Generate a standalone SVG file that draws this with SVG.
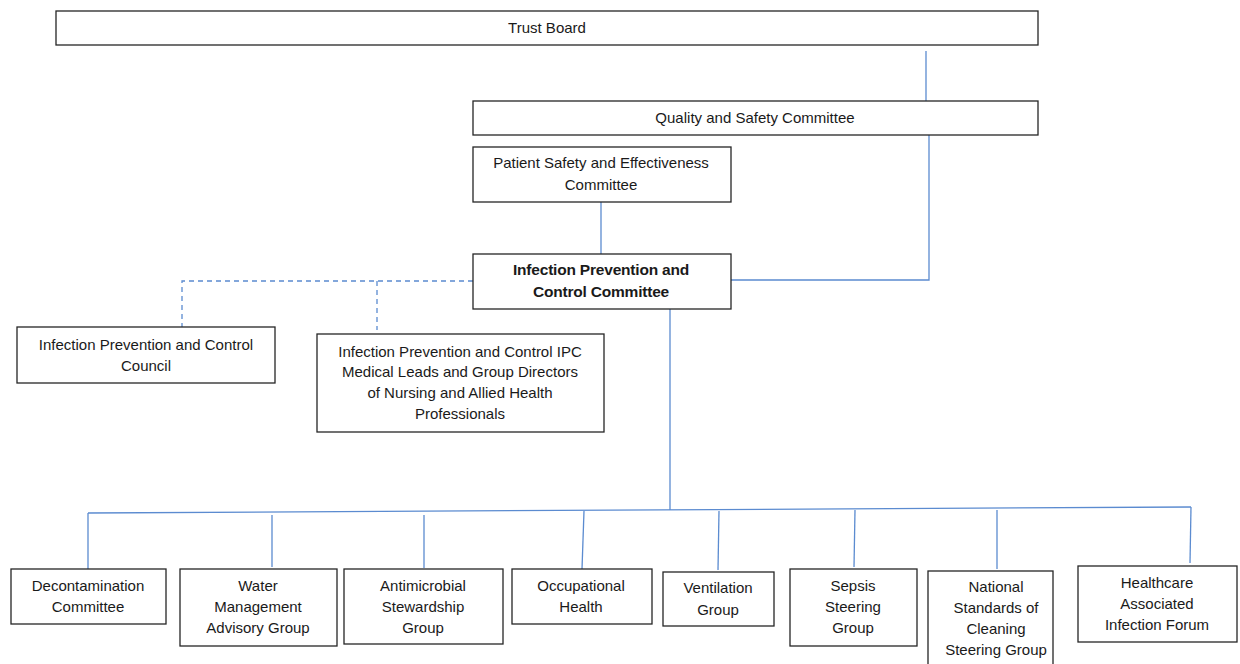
<svg xmlns="http://www.w3.org/2000/svg" width="1240" height="664" viewBox="0 0 1240 664">
<style>
.box{fill:#fff;stroke:#262626;stroke-width:1.3}
.t{font-family:"Liberation Sans",Arial,sans-serif;font-size:15px;fill:#1a1a1a;text-anchor:middle}
.b{font-weight:bold;font-size:15.5px;letter-spacing:-0.2px}
.c{fill:none;stroke:#5b8bd0;stroke-width:1.3}
.d{stroke-dasharray:5,4}
</style>
<rect width="1240" height="664" fill="#fff"/>
<g id="connectors">
<line class="c" x1="926" y1="51" x2="926" y2="101"/>
<polyline class="c" points="929,135 929,280 731,280"/>
<line class="c" x1="601" y1="202" x2="601" y2="254"/>
<polyline class="c d" points="473,281 182,281 182,327"/>
<line class="c d" x1="377" y1="281" x2="377" y2="330"/>
<line class="c" x1="670" y1="309" x2="670" y2="510"/>
<line class="c" x1="88" y1="513" x2="1191" y2="507"/>
<line class="c" x1="88" y1="513" x2="88" y2="569"/>
<line class="c" x1="272" y1="515" x2="272" y2="567"/>
<line class="c" x1="424" y1="515" x2="424" y2="568"/>
<line class="c" x1="584" y1="511" x2="582" y2="569"/>
<line class="c" x1="719" y1="511" x2="718" y2="570"/>
<line class="c" x1="855" y1="510" x2="854" y2="567"/>
<line class="c" x1="997" y1="510" x2="997" y2="569"/>
<line class="c" x1="1191" y1="507" x2="1190" y2="563"/>
</g>
<g id="trust-board"><rect class="box" x="56" y="11" width="982" height="34"/><text class="t" x="547" y="33">Trust Board</text></g>
<g id="quality"><rect class="box" x="473" y="101" width="565" height="34"/><text class="t" x="755" y="123">Quality and Safety Committee</text></g>
<g id="patient-safety"><rect class="box" x="473" y="147" width="258" height="55"/><text class="t" x="601" y="168">Patient Safety and Effectiveness</text><text class="t" x="601" y="190">Committee</text></g>
<g id="ipc-committee"><rect class="box" x="473" y="254" width="258" height="55"/><text class="t b" x="601" y="275">Infection Prevention and</text><text class="t b" x="601" y="297">Control Committee</text></g>
<g id="ipc-council"><rect class="box" x="17" y="327" width="258" height="56"/><text class="t" x="146" y="350">Infection Prevention and Control</text><text class="t" x="146" y="371">Council</text></g>
<g id="ipc-medical"><rect class="box" x="317" y="334" width="287" height="98"/><text class="t" x="460" y="357">Infection Prevention and Control IPC</text><text class="t" x="460" y="377">Medical Leads and Group Directors</text><text class="t" x="460" y="398">of Nursing and Allied Health</text><text class="t" x="460" y="419">Professionals</text></g>
<g id="decontamination"><rect class="box" x="11" y="569" width="155" height="55"/><text class="t" x="88" y="591">Decontamination</text><text class="t" x="88" y="612">Committee</text></g>
<g id="water"><rect class="box" x="180" y="569" width="157" height="77"/><text class="t" x="258" y="591">Water</text><text class="t" x="258" y="612">Management</text><text class="t" x="258" y="633">Advisory Group</text></g>
<g id="antimicrobial"><rect class="box" x="344" y="569" width="159" height="75"/><text class="t" x="423" y="591">Antimicrobial</text><text class="t" x="423" y="612">Stewardship</text><text class="t" x="423" y="633">Group</text></g>
<g id="occupational"><rect class="box" x="512" y="569" width="140" height="55"/><text class="t" x="581" y="591">Occupational</text><text class="t" x="581" y="612">Health</text></g>
<g id="ventilation"><rect class="box" x="663" y="572" width="111" height="54"/><text class="t" x="718" y="593">Ventilation</text><text class="t" x="718" y="615">Group</text></g>
<g id="sepsis"><rect class="box" x="790" y="569" width="127" height="77"/><text class="t" x="853" y="591">Sepsis</text><text class="t" x="853" y="612">Steering</text><text class="t" x="853" y="633">Group</text></g>
<g id="national-standards"><rect class="box" x="928" y="571" width="125" height="100"/><text class="t" x="996" y="592">National</text><text class="t" x="996" y="613">Standards of</text><text class="t" x="996" y="634">Cleaning</text><text class="t" x="996" y="655">Steering Group</text></g>
<g id="healthcare"><rect class="box" x="1078" y="566" width="159" height="76"/><text class="t" x="1157" y="588">Healthcare</text><text class="t" x="1157" y="609">Associated</text><text class="t" x="1157" y="630">Infection Forum</text></g>
</svg>
